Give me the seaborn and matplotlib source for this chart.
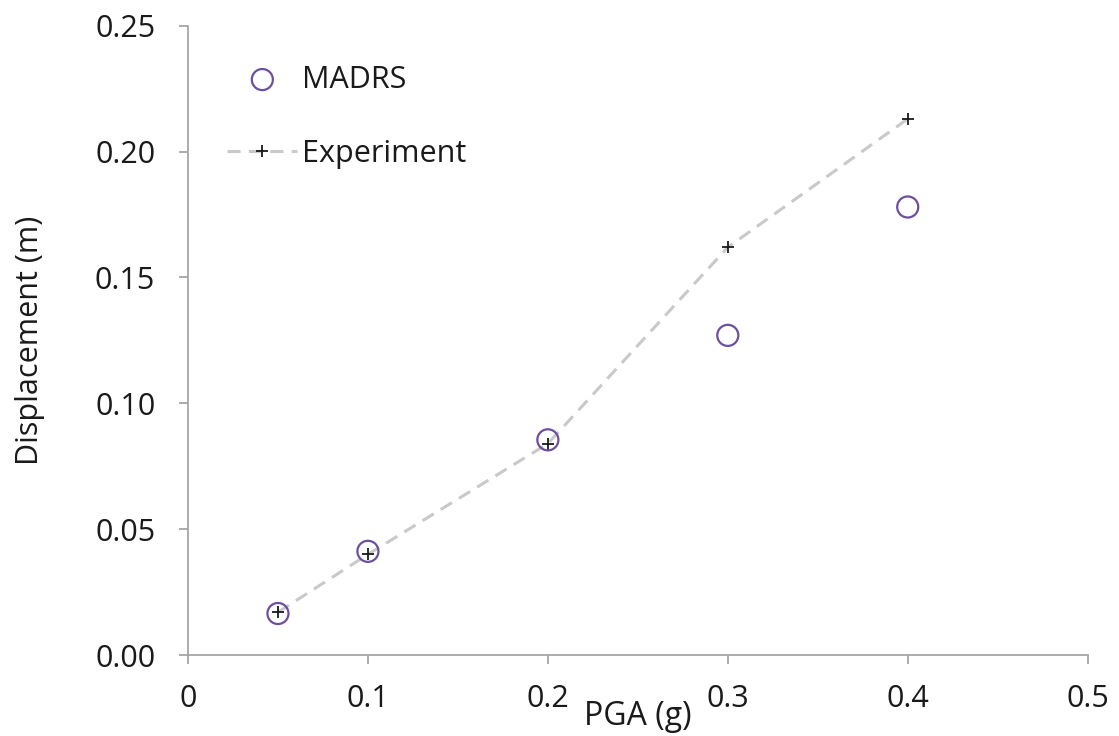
import numpy as np
import pandas as pd
import matplotlib
matplotlib.use("Agg")
import matplotlib.pyplot as plt
import seaborn as sns

###############
# Data
###############
madrs_pga = [0.05, 0.1, 0.2, 0.3, 0.4]
madrs_disp = [0.0165, 0.0412, 0.0855, 0.127, 0.178]
exp_pga = [0.05, 0.1, 0.2, 0.3, 0.4]
exp_disp = [0.017, 0.040, 0.084, 0.162, 0.213]

x_ticks = [0, 0.1, 0.2, 0.3, 0.4, 0.5]
x_tick_labels = ['0', '0.1', '0.2', '0.3', '0.4', '0.5']
y_ticks = [0.0, 0.05, 0.10, 0.15, 0.20, 0.25]

madrs = pd.DataFrame({'pga': madrs_pga, 'disp': madrs_disp})
experiment = pd.DataFrame({'pga': exp_pga, 'disp': exp_disp})

sns.set_style('white')
plt.rcParams['font.family'] = ['Open Sans', 'DejaVu Sans']
grey = '#a6a6a6'
txt = '#1a1a1a'

fig = plt.figure(figsize=(11.19, 7.36), dpi=100)
ax = fig.add_axes([0.168, 0.110, 0.804, 0.855])

sns.lineplot(ax=ax, data=experiment, x='pga', y='disp', color='#c9c9c9',
             linestyle=(0, (4.3, 2.7)), linewidth=2.2, marker='+', markersize=9,
             markeredgecolor=txt, markeredgewidth=1.3, label='Experiment',
             zorder=2)
sns.scatterplot(ax=ax, data=madrs, x='pga', y='disp', marker='o', s=230,
                facecolor='none', edgecolor='#6c4f9e', linewidth=1.6,
                label='MADRS', zorder=3)

ax.set_xlim(0, 0.5)
ax.set_ylim(0, 0.25)
ax.set_xticks(x_ticks)
ax.set_xticklabels(x_tick_labels)
ax.set_yticks(y_ticks)
ax.set_yticklabels(['%.2f' % v for v in y_ticks])

for side in ['top', 'right']:
    ax.spines[side].set_visible(False)
for side in ['left', 'bottom']:
    ax.spines[side].set_color(grey)
    ax.spines[side].set_linewidth(1.3)
ax.tick_params(axis='both', direction='out', length=6.5, width=1.3, color=grey,
               labelsize=22, labelcolor=txt, bottom=True, left=True)
ax.tick_params(axis='y', pad=17)
ax.tick_params(axis='x', pad=14)

ax.set_xlabel('PGA (g)', fontsize=23, color=txt, labelpad=-10)
ax.set_ylabel('Displacement (m)', fontsize=22, color=txt, labelpad=36)

# legend: MADRS first
handles, labels = ax.get_legend_handles_labels()
order = [labels.index('MADRS'), labels.index('Experiment')]
ax.legend([handles[i] for i in order], [labels[i] for i in order],
          loc='upper left', bbox_to_anchor=(0.013, 0.982), frameon=False,
          fontsize=22, labelspacing=1.45, handlelength=2.3, handletextpad=0.15,
          labelcolor=txt)

fig.savefig('out.png', dpi=100)
